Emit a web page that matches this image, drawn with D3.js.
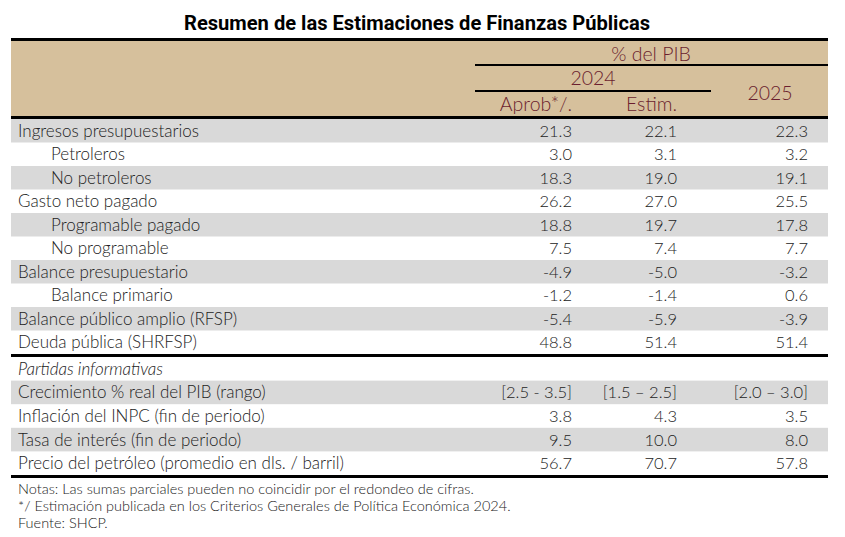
<!DOCTYPE html>
<html><head><meta charset="utf-8">
<script src="https://cdn.jsdelivr.net/npm/d3@7"></script>
<style>
body{margin:0;background:#fff;}
svg{display:block;}
</style></head>
<body><svg id="c" width="845" height="537"></svg>
<script>
const title = "Resumen de las Estimaciones de Finanzas Públicas";
const mainLabels = ["Ingresos presupuestarios","Petroleros","No petroleros","Gasto neto pagado","Programable pagado","No programable","Balance presupuestario","Balance primario","Balance público amplio (RFSP)","Deuda pública (SHRFSP)"];
const mainIndent = [0,1,1,0,1,1,0,1,0,0];
const aprob2024 = ["21.3","3.0","18.3","26.2","18.8","7.5","-4.9","-1.2","-5.4","48.8"];
const estim2024 = ["22.1","3.1","19.0","27.0","19.7","7.4","-5.0","-1.4","-5.9","51.4"];
const est2025   = ["22.3","3.2","19.1","25.5","17.8","7.7","-3.2","0.6","-3.9","51.4"];
const infoTitle = "Partidas informativas";
const infoLabels = ["Crecimiento % real del PIB (rango)","Inflación del INPC (fin de periodo)","Tasa de interés (fin de periodo)","Precio del petróleo (promedio en dls. / barril)"];
const infoAprob = ["[2.5 - 3.5]","3.8","9.5","56.7"];
const infoEstim = ["[1.5 – 2.5]","4.3","10.0","70.7"];
const info2025  = ["[2.0 – 3.0]","3.5","8.0","57.8"];
const headerTop = "% del PIB";
const headerYears = ["2024","2025"];
const headerCols = ["Aprob*/.","Estim."];
const notes = ["Notas: Las sumas parciales pueden no coincidir por el redondeo de cifras.","*/ Estimación publicada en los Criterios Generales de Política Económica 2024.","Fuente: SHCP."];

const svg = d3.select("#c");
const L = 11, R = 828;
const font = "Lato, 'Open Sans', sans-serif";
const beige = "#d6c09c", gray = "#d9d9d9", maroon = "#6b1e2e", txt = "#222";

const colX = d3.scaleOrdinal().domain(["aprob","estim","y25"]).range([572,677,808]);

svg.append("text").attr("x",417).attr("y",30).attr("text-anchor","middle")
  .attr("font-family","Roboto, sans-serif").attr("font-weight","bold")
  .attr("font-size",20).attr("fill","#000")
  .attr("textLength",466).attr("lengthAdjust","spacingAndGlyphs").text(title);

// header
svg.append("rect").attr("x",L).attr("y",40).attr("width",R-L).attr("height",77).attr("fill",beige);
svg.append("rect").attr("x",L).attr("y",38).attr("width",R-L).attr("height",3).attr("fill","#000");
svg.append("rect").attr("x",L).attr("y",116).attr("width",R-L).attr("height",3).attr("fill","#000");
svg.append("rect").attr("x",475).attr("y",64).attr("width",R-475).attr("height",2).attr("fill","#000");
svg.append("rect").attr("x",475).attr("y",90).attr("width",711-475).attr("height",2).attr("fill","#000");
const ht = (x,y,t,anchor)=>svg.append("text").attr("x",x).attr("y",y).attr("text-anchor",anchor)
  .attr("font-family",font).attr("font-weight",300).attr("font-size",19.5).attr("fill",maroon).text(t);
ht(651,61,headerTop,"middle");
ht(593,85,headerYears[0],"middle");
ht(770,100,headerYears[1],"middle");
ht(colX("aprob"),111,headerCols[0],"end");
ht(colX("estim"),111,headerCols[1],"end");

// main rows
const y1 = d3.scaleBand().domain(d3.range(mainLabels.length)).range([119,354]).padding(0);
const rowsMain = mainLabels.map((l,i)=>({label:l,indent:mainIndent[i],v:[aprob2024[i],estim2024[i],est2025[i]]}));
function drawRows(data, yScale, grayStart){
  const g = svg.append("g").selectAll("g").data(data).join("g")
    .attr("transform",(d,i)=>`translate(0,${yScale(i)})`);
  g.filter((d,i)=>i%2===grayStart).append("rect").attr("x",L).attr("width",R-L).attr("height",yScale.bandwidth()).attr("fill",gray);
  g.append("text").attr("x",d=>d.indent?51:18).attr("y",yScale.bandwidth()/2+6)
    .attr("font-family",font).attr("font-weight",300).attr("font-size",17).attr("fill",txt)
    .attr("font-style",d=>d.italic?"italic":null).text(d=>d.label);
  ["aprob","estim","y25"].forEach((k,j)=>{
    g.append("text").attr("x",colX(k)).attr("y",yScale.bandwidth()/2+6).attr("text-anchor","end")
      .attr("font-family",font).attr("font-weight",300).attr("font-size",16.5).attr("fill",txt).text(d=>d.v[j]);
  });
}
drawRows(rowsMain,y1,0);
svg.append("rect").attr("x",L).attr("y",354).attr("width",R-L).attr("height",3).attr("fill","#000");

const infoRows = [{label:infoTitle,indent:0,italic:true,v:["","",""]}].concat(
  infoLabels.map((l,i)=>({label:l,indent:0,v:[infoAprob[i],infoEstim[i],info2025[i]]})));
const y2 = d3.scaleBand().domain(d3.range(infoRows.length)).range([357,475]).padding(0);
drawRows(infoRows,y2,1);
svg.append("rect").attr("x",L).attr("y",475).attr("width",R-L).attr("height",3).attr("fill","#000");

svg.append("g").selectAll("text").data(notes).join("text")
  .attr("x",18).attr("y",(d,i)=>494+i*17)
  .attr("font-family",font).attr("font-weight",300).attr("font-size",14.5).attr("fill",txt).text(d=>d);
</script></body></html>
